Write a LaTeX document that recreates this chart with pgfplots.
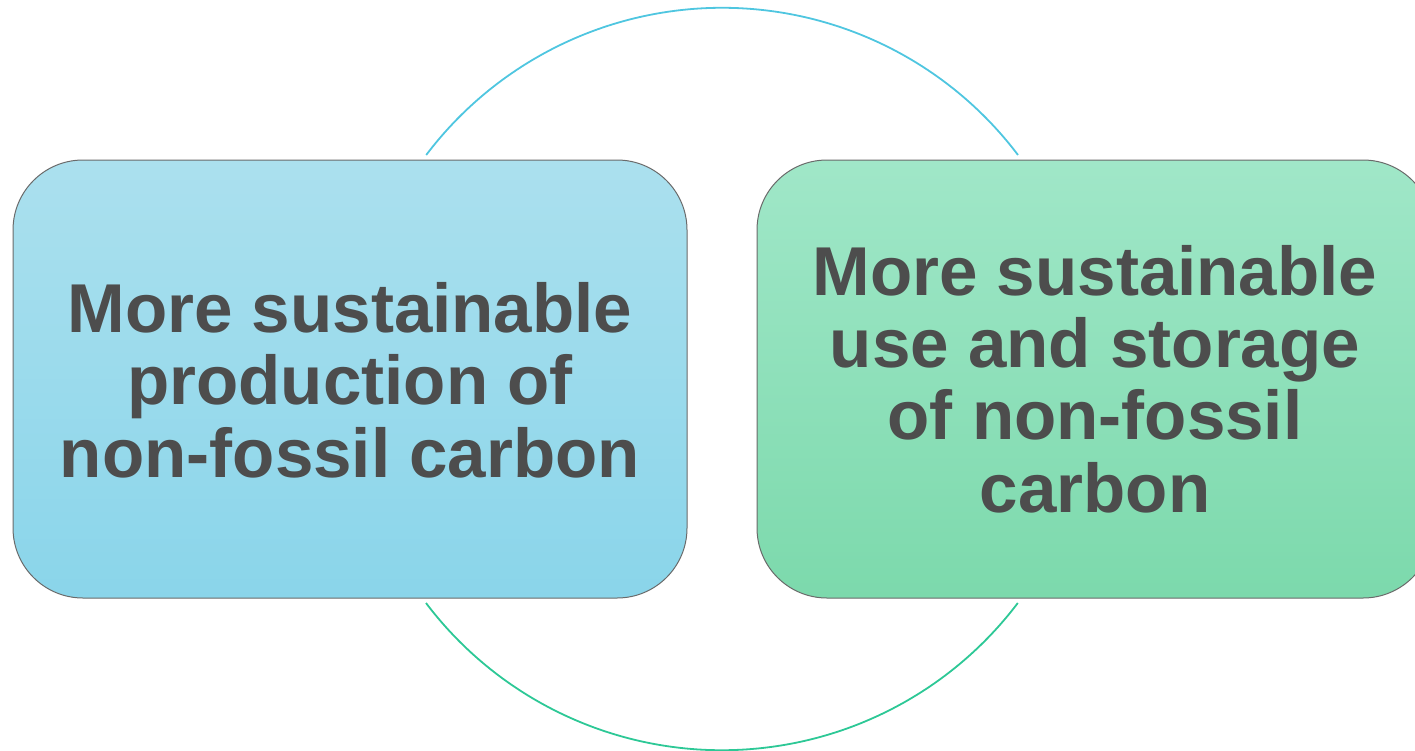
\documentclass[border=0pt]{standalone}
\usepackage{pgfplots}
\pgfplotsset{compat=1.18}
\usepackage{fontspec}
\setmainfont{Liberation Sans}
\definecolor{txtgray}{HTML}{4D4D4D}
\definecolor{blueTop}{HTML}{ABE0EE}
\definecolor{blueBot}{HTML}{8AD5EA}
\definecolor{greenTop}{HTML}{A0E7C8}
\definecolor{greenBot}{HTML}{7CD9AC}
\definecolor{arcCyan}{HTML}{4FC6E0}
\definecolor{arcGreen}{HTML}{2DC896}
\definecolor{edgeGray}{HTML}{6A6A6A}
\begin{document}
\begin{tikzpicture}
\begin{axis}[
  width=707.5bp, height=375.5bp, scale only axis,
  hide axis, xmin=0, xmax=1415, ymin=0, ymax=751, y dir=reverse,
  clip=true]
\path (axis cs:0,0) rectangle (axis cs:1415,751);
% circle arcs (centre 722,379; radius 371 px)
\draw[arcCyan, line width=0.9bp] (axis cs:1018,155) arc[start angle=37.1, end angle=142.9, radius=185.5bp];
\draw[arcGreen, line width=0.9bp] (axis cs:426,603) arc[start angle=217.1, end angle=322.9, radius=185.5bp];
% boxes
\shade[top color=blueTop, bottom color=blueBot, draw=edgeGray, line width=0.5bp, rounded corners=35bp]
  (axis cs:13,160) rectangle (axis cs:687,598);
\shade[top color=greenTop, bottom color=greenBot, draw=edgeGray, line width=0.5bp, rounded corners=35bp]
  (axis cs:757,160) rectangle (axis cs:1433,598);
\node[align=center, text=txtgray, font=\fontsize{34.7}{36.3}\selectfont\bfseries]
  at (axis cs:350,380) {More sustainable\\production of\\non-fossil carbon};
\node[align=center, text=txtgray, font=\fontsize{34.7}{36.3}\selectfont\bfseries]
  at (axis cs:1095,379) {More sustainable\\use and storage\\of non-fossil\\carbon};
\end{axis}
\end{tikzpicture}
\end{document}
